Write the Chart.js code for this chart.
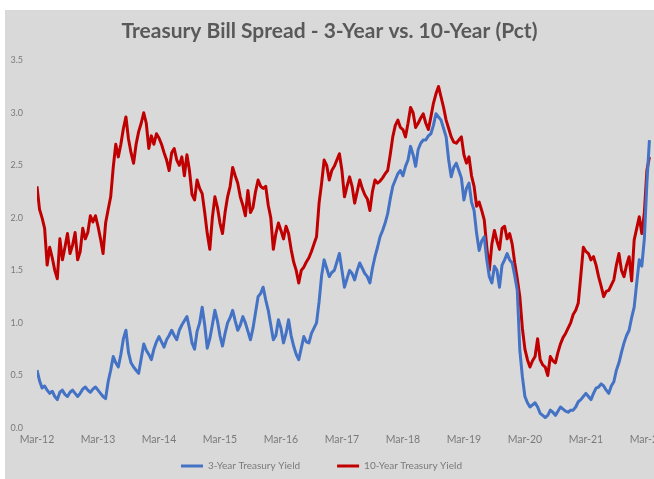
<!DOCTYPE html>
<html lang="en">
<head>
<meta charset="UTF-8">
<title>Treasury Bill Spread</title>
<script src="https://cdn.jsdelivr.net/npm/chart.js"></script>
<style>
  * { margin: 0; padding: 0; box-sizing: border-box; }
  body { background: #fff; width: 654px; height: 479px; overflow: hidden; }
  .panel {
    position: absolute;
    left: 5px;
    top: 10px;
    width: 649px;
    height: 469px;
    background: #d9d9d9;
  }
</style>
</head>
<body>
<div class="panel"><canvas id="spreadChart" width="649" height="469"></canvas></div>
<script>
// half-month samples starting Mar 2012
const stepMonths = 0.5;

const tenYear = [
  2.30, 2.08, 2.00, 1.90, 1.55, 1.72, 1.62, 1.50, 1.42, 1.80, 1.60, 1.72, 1.85, 1.66, 1.74, 1.86, 1.60, 1.68, 1.90, 1.80, 1.86, 2.02, 1.96, 2.02,
  1.92, 1.80, 1.66, 1.95, 2.08, 2.20, 2.48, 2.70, 2.58, 2.70, 2.85, 2.96, 2.75, 2.62, 2.52, 2.70, 2.82, 2.90, 3.00, 2.90, 2.66, 2.78, 2.70, 2.80,
  2.76, 2.70, 2.62, 2.55, 2.45, 2.62, 2.66, 2.55, 2.50, 2.58, 2.40, 2.60, 2.45, 2.22, 2.17, 2.36, 2.28, 2.23, 2.05, 1.85, 1.70, 2.00, 2.20, 2.10,
  1.95, 1.85, 2.05, 2.20, 2.30, 2.48, 2.40, 2.33, 2.20, 2.12, 2.02, 2.26, 2.05, 2.10, 2.25, 2.36, 2.30, 2.28, 2.30, 2.12, 2.00, 1.70, 1.85, 1.95,
  1.88, 1.80, 1.92, 1.85, 1.70, 1.58, 1.50, 1.38, 1.50, 1.53, 1.58, 1.62, 1.68, 1.75, 1.82, 2.14, 2.33, 2.55, 2.50, 2.36, 2.45, 2.49, 2.55, 2.61,
  2.45, 2.20, 2.30, 2.39, 2.30, 2.14, 2.25, 2.36, 2.28, 2.22, 2.18, 2.07, 2.25, 2.36, 2.33, 2.35, 2.38, 2.42, 2.45, 2.60, 2.77, 2.88, 2.93, 2.86,
  2.84, 2.77, 2.90, 3.05, 3.00, 2.86, 2.90, 2.95, 2.99, 2.90, 2.84, 2.96, 3.09, 3.18, 3.25, 3.15, 3.05, 2.93, 2.85, 2.77, 2.72, 2.71, 2.74, 2.77,
  2.60, 2.52, 2.58, 2.40, 2.30, 2.11, 2.15, 2.07, 1.98, 1.72, 1.50, 1.75, 1.88, 1.78, 1.70, 1.90, 1.92, 1.80, 1.85, 1.75, 1.57, 1.42, 1.25, 0.95,
  0.75, 0.65, 0.58, 0.64, 0.68, 0.85, 0.65, 0.60, 0.58, 0.50, 0.68, 0.64, 0.62, 0.72, 0.80, 0.86, 0.90, 0.95, 1.00, 1.08, 1.12, 1.19, 1.45, 1.72,
  1.68, 1.66, 1.60, 1.63, 1.55, 1.44, 1.35, 1.25, 1.30, 1.31, 1.36, 1.41, 1.55, 1.66, 1.50, 1.44, 1.55, 1.63, 1.40, 1.79, 1.90, 2.01, 1.85, 2.05,
  2.45, 2.58
];

const threeYear = [
  0.55, 0.45, 0.38, 0.40, 0.36, 0.33, 0.35, 0.30, 0.27, 0.34, 0.36, 0.32, 0.30, 0.34, 0.36, 0.33, 0.30, 0.33, 0.37, 0.39, 0.36, 0.34, 0.37, 0.39,
  0.36, 0.33, 0.30, 0.28, 0.44, 0.55, 0.68, 0.62, 0.58, 0.70, 0.85, 0.93, 0.72, 0.62, 0.58, 0.55, 0.52, 0.66, 0.80, 0.74, 0.70, 0.65, 0.75, 0.82,
  0.87, 0.82, 0.77, 0.84, 0.88, 0.93, 0.88, 0.84, 0.93, 0.98, 1.02, 1.06, 0.95, 0.81, 0.75, 0.92, 1.00, 1.15, 0.98, 0.76, 0.85, 0.98, 1.12, 1.02,
  0.88, 0.78, 0.90, 1.00, 1.05, 1.12, 1.02, 0.93, 0.98, 1.06, 1.00, 0.92, 0.84, 0.95, 1.10, 1.25, 1.28, 1.34, 1.22, 1.12, 0.98, 0.84, 0.88, 1.03,
  0.95, 0.81, 0.90, 1.03, 0.88, 0.78, 0.70, 0.65, 0.76, 0.87, 0.82, 0.81, 0.90, 0.95, 1.00, 1.20, 1.45, 1.60, 1.52, 1.44, 1.48, 1.50, 1.58, 1.66,
  1.50, 1.34, 1.42, 1.50, 1.47, 1.41, 1.50, 1.57, 1.52, 1.47, 1.44, 1.38, 1.52, 1.63, 1.72, 1.82, 1.88, 1.95, 2.04, 2.18, 2.30, 2.36, 2.42, 2.45,
  2.40, 2.49, 2.55, 2.68, 2.60, 2.49, 2.65, 2.71, 2.74, 2.74, 2.78, 2.80, 2.88, 2.99, 2.96, 2.93, 2.85, 2.77, 2.55, 2.39, 2.48, 2.52, 2.45, 2.38,
  2.17, 2.28, 2.33, 2.15, 2.07, 1.85, 1.69, 1.78, 1.82, 1.60, 1.44, 1.38, 1.54, 1.50, 1.34, 1.55, 1.60, 1.66, 1.60, 1.57, 1.45, 1.31, 0.74, 0.49,
  0.30, 0.24, 0.20, 0.22, 0.24, 0.20, 0.14, 0.12, 0.10, 0.12, 0.17, 0.15, 0.12, 0.16, 0.20, 0.18, 0.16, 0.15, 0.17, 0.17, 0.20, 0.25, 0.27, 0.30,
  0.33, 0.30, 0.27, 0.33, 0.38, 0.39, 0.42, 0.40, 0.36, 0.33, 0.40, 0.44, 0.55, 0.62, 0.72, 0.81, 0.88, 0.93, 1.05, 1.15, 1.38, 1.60, 1.54, 1.80,
  2.33, 2.74
];

const tickMonths = [0, 12, 24, 36, 48, 60, 72, 84, 96, 108, 120];
const tickLabels = ['Mar-12', 'Mar-13', 'Mar-14', 'Mar-15', 'Mar-16', 'Mar-17', 'Mar-18', 'Mar-19', 'Mar-20', 'Mar-21', 'Mar-22'];

const toPoints = arr => arr.map((v, i) => ({ x: i * stepMonths, y: v }));

const axisText = '#7a7a7a';

// pull the legend row up under the axis labels and a little left of centre
const legendShift = {
  id: 'legendShift',
  afterLayout(chart) {
    const lg = chart.legend;
    lg.left -= 8;
    lg.right -= 8;
    lg.top -= 26;
  }
};

new Chart(document.getElementById('spreadChart'), {
  type: 'line',
  data: {
    datasets: [
      {
        label: '3-Year Treasury Yield',
        data: toPoints(threeYear),
        borderColor: '#4472c4',
        backgroundColor: '#4472c4',
        borderWidth: 3
      },
      {
        label: '10-Year Treasury Yield',
        data: toPoints(tenYear),
        borderColor: '#c00000',
        backgroundColor: '#c00000',
        borderWidth: 3
      }
    ]
  },
  plugins: [legendShift],
  options: {
    responsive: false,
    animation: false,
    layout: { padding: { bottom: 0 } },
    elements: {
      point: { radius: 0 },
      line: { tension: 0, borderJoinStyle: 'round' }
    },
    plugins: {
      tooltip: { enabled: false },
      title: {
        display: true,
        text: 'Treasury Bill Spread - 3-Year vs. 10-Year (Pct)',
        color: '#595959',
        font: { family: 'Lato', size: 21, weight: 'bold' },
        padding: { top: 9, bottom: 16 }
      },
      legend: {
        position: 'bottom',
        maxHeight: 29,
        labels: {
          usePointStyle: true,
          pointStyle: 'line',
          pointStyleWidth: 22,
          color: axisText,
          font: { family: 'Lato', size: 10 },
          padding: 37
        }
      }
    },
    scales: {
      x: {
        type: 'linear',
        min: 0,
        max: 121.4,
        grid: { display: false, drawTicks: false },
        border: { display: false },
        ticks: {
          color: axisText,
          font: { family: 'Lato', size: 10.5 },
          padding: 5,
          maxRotation: 0,
          autoSkip: false,
          callback: (v, i) => tickLabels[i]
        },
        afterBuildTicks: scale => {
          scale.ticks = tickMonths.map(m => ({ value: m }));
        },
        afterFit: scale => {
          // let the last label run off the right edge
          scale.paddingLeft = 0;
          scale.paddingRight = 0;
          scale.height = 22;
        }
      },
      y: {
        min: 0,
        max: 3.5,
        grid: { display: false, drawTicks: false },
        border: { display: false },
        ticks: {
          stepSize: 0.5,
          color: axisText,
          font: { family: 'Lato', size: 9 },
          padding: 14,
          callback: v => v.toFixed(1)
        },
        afterFit: scale => { scale.width = 32; }
      }
    }
  }
});
</script>
</body>
</html>
